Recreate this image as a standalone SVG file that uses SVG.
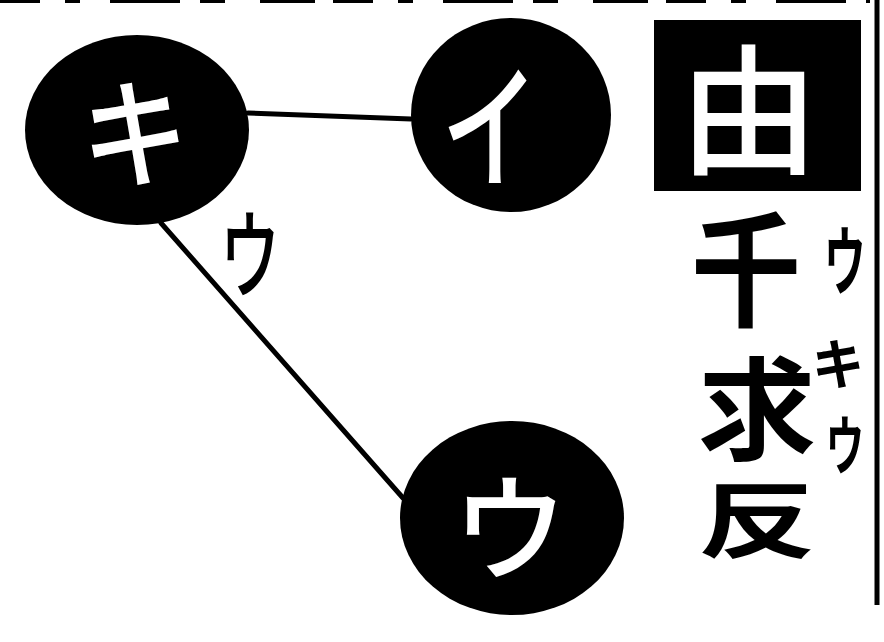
<svg xmlns="http://www.w3.org/2000/svg" width="884" height="642" viewBox="0 0 884 642">
<style>
.node{fill:#000}
.glyph{font-family:"Noto Sans CJK JP","Noto Sans CJK SC",sans-serif;text-anchor:middle;dominant-baseline:central}
.w{fill:#fff}
.b{fill:#000}
.conn{stroke:#000;stroke-width:5;fill:none;stroke-linecap:round}
</style>
<rect width="884" height="642" fill="#fff"/>
<g id="frame">
<line x1="0" y1="1.5" x2="870" y2="1.5" stroke="#000" stroke-width="3" stroke-dasharray="40 25 15 30 70 20 25 35 55 18"/>
<line x1="877" y1="0" x2="877" y2="605" stroke="#000" stroke-width="5"/>
</g>
<g id="connectors">
<path class="conn" d="M248,113 L411,119"/>
<path class="conn" d="M161,223 L403,498"/>
</g>
<g id="node-ki">
<ellipse class="node" cx="137" cy="130" rx="112" ry="95"/>
<text class="glyph w" font-size="120" font-weight="500" transform="translate(135,127) scale(0.9,1)">キ</text>
</g>
<g id="node-i">
<ellipse class="node" cx="511" cy="115" rx="100" ry="97"/>
<text class="glyph w" font-size="130" font-weight="500" transform="translate(490,118) scale(0.75,1.05)">イ</text>
</g>
<g id="node-u">
<ellipse class="node" cx="512" cy="518" rx="112" ry="97"/>
<text class="glyph w" font-size="115" font-weight="500" transform="translate(510,521)">ウ</text>
</g>
<g id="label-u">
<text class="glyph b" font-size="80" font-weight="500" transform="translate(250,248) scale(0.75,1.2)">ウ</text>
</g>
<g id="box-yu">
<rect x="654" y="20" width="207" height="171" fill="#000"/>
<text class="glyph w" font-size="140" font-weight="500" transform="translate(749,102)">由</text>
</g>
<g id="reading">
<text class="glyph b" font-size="125" font-weight="700" transform="translate(746,262) scale(0.88,1)">千</text>
<text class="glyph b" font-size="118" font-weight="700" transform="translate(757,403) scale(1,0.95)">求</text>
<text class="glyph b" font-size="118" font-weight="700" transform="translate(757,515) scale(1,0.7)">反</text>
<text class="glyph b" font-size="58" font-weight="700" transform="translate(845,256) scale(0.72,1.3)">ウ</text>
<text class="glyph b" font-size="55" font-weight="700" transform="translate(838,360) scale(0.95,1)">キ</text>
<text class="glyph b" font-size="55" font-weight="700" transform="translate(845,441) scale(0.7,1.15)">ウ</text>
</g>
</svg>
